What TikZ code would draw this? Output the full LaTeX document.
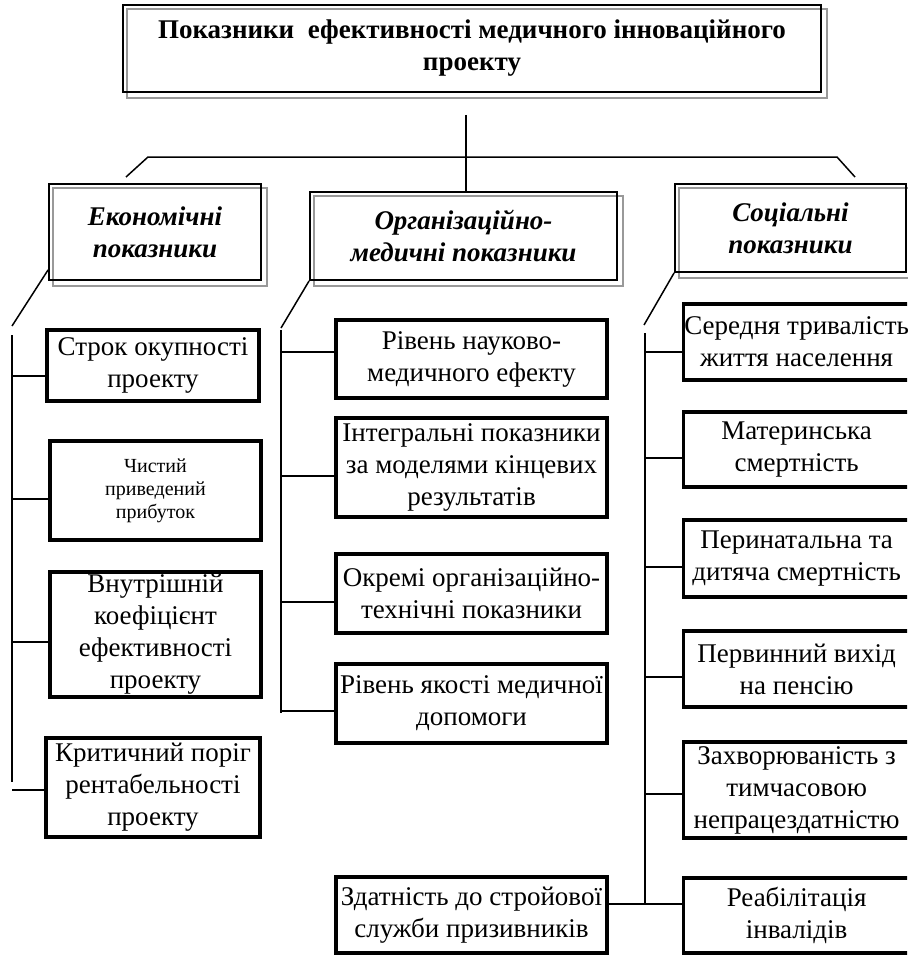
\documentclass[tikz,border=0pt]{standalone}
\usepackage{fontspec}
\setmainfont{Liberation Serif}
\usetikzlibrary{backgrounds}

\tikzset{
  link/.style={line width=1.5pt},
  headbox/.style={draw, line width=2pt, inner sep=0pt, align=center,
    font=\fontsize{27}{32}\selectfont\bfseries},
  groupbox/.style={draw, line width=1.8pt, inner sep=0pt, align=center,
    font=\fontsize{27}{32}\selectfont\bfseries\itshape},
  itembox/.style={draw, line width=3.2pt, inner sep=0pt, align=center,
    font=\fontsize{27}{32}\selectfont},
  shadowframe/.style={draw=black!40, line width=1.8pt},
}

\begin{document}
\begin{tikzpicture}[x=1pt,y=-1pt]
		\useasboundingbox (0,0) rectangle (907,955);
		\clip (0,0) rectangle (907,955);
		%%%%% HEAD %%%%%
		\node[headbox, minimum width=698pt, minimum height=87pt] (head) at (472,48.5)
			{Показники~ ефективності медичного інноваційного\\проекту};
		
		%%%%% GROUPS %%%%%
		\node[groupbox, minimum width=212pt, minimum height=96pt] (eco) at (155,232) {Економічні\\показники};
		\node[groupbox, minimum width=307pt, minimum height=88pt] (org) at (463.5,236) {Організаційно-\\медичні показники};
		\node[groupbox, minimum width=231pt, minimum height=88pt] (soc) at (790.5,228) {Соціальні\\показники};
		
		\begin{scope}[on background layer]
			\foreach \n in {head,eco,org,soc}
				\draw[shadowframe] ([shift={(5,5)}]\n.north west) rectangle ([shift={(5,5)}]\n.south east);
		\end{scope}
		
		%%%%% ECONOMIC %%%%%
		\node[itembox, minimum width=212pt, minimum height=71pt] (strok) at (153,365.5) {Строк окупності\\проекту};
		\node[itembox, minimum width=211pt, minimum height=99pt, font=\fontsize{20}{23}\selectfont] (chyst) at (155.5,490.5) {Чистий\\приведений\\прибуток};
		\node[itembox, minimum width=211pt, minimum height=125pt] (vnutr) at (155.5,634.5) {Внутрішній\\коефіцієнт\\ефективності\\проекту};
		\node[itembox, minimum width=214pt, minimum height=99pt] (kryt) at (153,787.5) {Критичний поріг\\рентабельності\\проекту};
		
		%%%%% ORGANISATIONAL %%%%%
		\node[itembox, minimum width=271pt, minimum height=78pt] (riven) at (471.5,359) {Рівень науково-\\медичного ефекту};
		\node[itembox, minimum width=271pt, minimum height=99pt] (integr) at (471.5,467.5) {Інтегральні показники\\за моделями кінцевих\\результатів};
		\node[itembox, minimum width=271pt, minimum height=79pt] (okremi) at (471.5,593.5) {Окремі організаційно-\\технічні показники};
		\node[itembox, minimum width=271pt, minimum height=79pt] (yakist) at (471.5,703.5) {Рівень якості медичної\\допомоги};
		\node[itembox, minimum width=271pt, minimum height=76pt] (zdatn) at (471.5,915) {Здатність до стройової\\служби призивників};
		
		%%%%% SOCIAL %%%%%
		\node[itembox, anchor=west, minimum width=226pt, minimum height=76pt] (seredn) at (682,342) {Середня тривалість\\життя населення};
		\node[itembox, anchor=west, minimum width=226pt, minimum height=75pt] (mater) at (682,449.5) {Материнська\\смертність};
		\node[itembox, anchor=west, minimum width=226pt, minimum height=77pt] (perin) at (682,558.5) {Перинатальна та\\дитяча смертність};
		\node[itembox, anchor=west, minimum width=226pt, minimum height=76pt] (pervyn) at (682,669) {Первинний вихід\\на пенсію};
		\node[itembox, anchor=west, minimum width=226pt, minimum height=96pt] (zakhv) at (682,790) {Захворюваність з\\тимчасовою\\непрацездатністю};
		\node[itembox, anchor=west, minimum width=226pt, minimum height=75pt] (reab) at (682,915.5) {Реабілітація\\інвалідів};
		
		%%%%% LINKS %%%%%
		\coordinate (hub) at (466,115);
		\draw[link] (hub) -- (hub |- org.north);
		\coordinate (barL) at (126,177);
		\coordinate (barR) at (855,177);
		\draw[link] (barL) -- (148,157) -- (837,157) -- (barR);
		
		\draw[link] ([yshift=11pt]eco.south west) -- (12,326);
		\draw[link] (12,335) -- (12,782);
		\foreach \n/\y in {strok/376,chyst/499,vnutr/642,kryt/790}
			{\coordinate (tap) at (12,\y);
			 \draw[link] (tap) -- (tap -| \n.west);}
		
		\draw[link] (org.south west) -- (281,328);
		\draw[link] (281,330) -- (281,713);
		\foreach \n/\y in {riven/352,integr/476,okremi/602,yakist/711}
			{\coordinate (tap) at (281,\y);
			 \draw[link] (tap) -- (tap -| \n.west);}
		
		\draw[link] (soc.south west) -- (644,325);
		\draw[link] (645,333) -- (645,904);
		\foreach \n/\y in {seredn/352,mater/458,perin/567,pervyn/677,zakhv/794}
			{\coordinate (tap) at (645,\y);
			 \draw[link] (tap) -- (tap -| \n.west);}
		\coordinate (tap) at (645,904);
		\draw[link] (tap -| zdatn.east) -- (tap -| reab.west);
	\end{tikzpicture}
\end{document}
